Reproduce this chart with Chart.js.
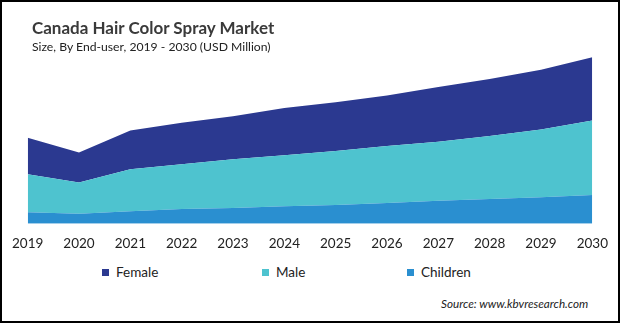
<!DOCTYPE html>
<html>
<head>
<meta charset="utf-8">
<script src="https://cdn.jsdelivr.net/npm/chart.js@4"></script>
<style>
  body { margin: 0; background: #fff; font-family: Lato, "Open Sans", sans-serif; }
  #wrap { position: relative; width: 620px; height: 323px; overflow: hidden; }
  #frame { position: absolute; left: 0; top: 0; width: 620px; height: 323px; box-sizing: border-box; border: 2px solid #000; pointer-events: none; }
  canvas { position: absolute; left: 0; top: 0; }
  .title { position: absolute; left: 32px; top: 17.5px; font-size: 17px; font-weight: 700; color: #3a3a3a; line-height: 1.2; white-space: nowrap; }
  .subtitle { position: absolute; left: 32px; top: 39.5px; font-size: 12.2px; color: #222; line-height: 1.2; white-space: nowrap; }
  #legend { position: absolute; top: 263.5px; left: 0; height: 17px; font-size: 13.5px; color: #222; line-height: 1.2; }
  #legend span.item { position: absolute; white-space: nowrap; }
  #legend i { display: inline-block; width: 7px; height: 7px; margin-right: 7px; vertical-align: 1px; }
  .source { position: absolute; left: 441px; top: 295.5px; font-size: 11.7px; font-style: italic; color: #222; line-height: 1.2; white-space: nowrap; }
</style>
</head>
<body>
<div id="wrap">
  <canvas id="chart" width="620" height="264"></canvas>
  <div class="title">Canada Hair Color Spray Market</div>
  <div class="subtitle">Size, By End-user, 2019 - 2030 (USD Million)</div>
  <div id="legend"></div>
  <div class="source">Source: www.kbvresearch.com</div>
  <div id="frame"></div>
</div>
<script>
const years = ["2019", "2020", "2021", "2022", "2023", "2024", "2025", "2026", "2027", "2028", "2029", "2030"];

// stacked bottom-up: children, male, female
const children = [11.7, 10, 12.7, 15, 16, 17.7, 19, 21, 23.3, 25, 26.7, 29];
const male = [38.3, 31.7, 42.3, 45, 49, 51.3, 54.3, 57.3, 59.4, 63.3, 68.3, 75];
const female = [36.7, 30, 39, 41.7, 43.3, 47.7, 49, 51, 55, 57.4, 60, 63.7];

const colors = { Female: "#2b3990", Male: "#4ec3cf", Children: "#2a8fd0" };

const ctx = document.getElementById("chart").getContext("2d");

function area(label, data, fill) {
  return {
    label: label,
    data: data,
    backgroundColor: colors[label],
    borderWidth: 0,
    pointRadius: 0,
    tension: 0,
    fill: fill,
  };
}

const chart = new Chart(ctx, {
  type: "line",
  data: {
    labels: years,
    datasets: [
      area("Children", children, "origin"),
      area("Male", male, "-1"),
      area("Female", female, "-1"),
    ],
  },
  options: {
    responsive: false,
    animation: false,
    layout: { padding: { top: 50, left: 11, right: 11, bottom: 0 } },
    plugins: {
      legend: { display: false },
      tooltip: { enabled: false },
    },
    scales: {
      x: {
        grid: { display: false, drawTicks: false },
        border: { display: false },
        ticks: {
          color: "#222",
          font: { family: "Lato", size: 13.5 },
          padding: 12,
          maxRotation: 0,
          autoSkip: false,
        },
      },
      y: { display: false, stacked: true, min: 0, max: 175 },
    },
  },
});

// legend row under the axis
const legendItems = [
  { label: "Female", x: 102 },
  { label: "Male", x: 262 },
  { label: "Children", x: 407 },
];
const legend = document.getElementById("legend");
legendItems.forEach((it) => {
  const el = document.createElement("span");
  el.className = "item";
  el.style.left = it.x + "px";
  el.innerHTML = `<i style="background:${colors[it.label]}"></i>${it.label}`;
  legend.appendChild(el);
});
</script>
</body>
</html>
